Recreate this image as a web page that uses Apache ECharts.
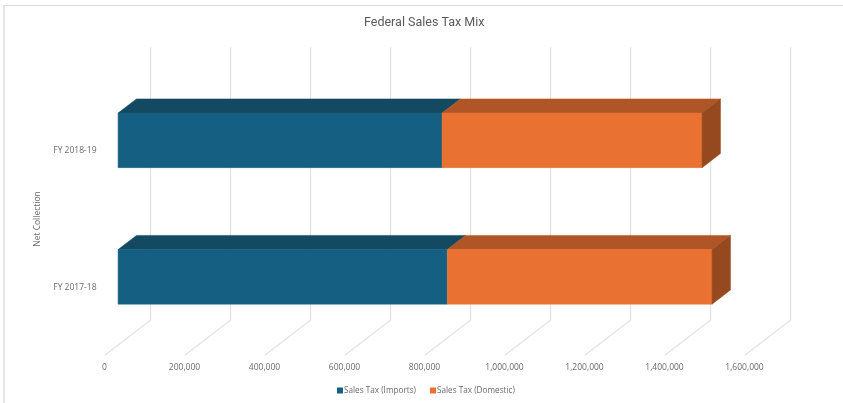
<!DOCTYPE html>
<html>
<head>
<meta charset="utf-8">
<style>html,body{margin:0;padding:0;background:#fff}#chart{width:843px;height:403px}</style>
<script src="https://cdn.jsdelivr.net/npm/echarts@6/dist/echarts.min.js"></script>
</head>
<body>
<div id="chart"></div>
<script>
// Federal sales tax collection by source, stacked per fiscal year.
var fiscalYears = ['FY 2017-18', 'FY 2018-19'];
var salesTaxImports = [823000, 810000];
var salesTaxDomestic = [662000, 650000];
var tickValues = [0, 200000, 400000, 600000, 800000, 1000000, 1200000, 1400000, 1600000];

var chart = echarts.init(document.getElementById('chart'));

// Oblique projection: how far the back wall sits from the front floor edge, and
// where the bar's front and back faces fall along that depth.
var DEPTH_X = 46, DEPTH_Y = -35.3;
var FRONT = 0.295, BACK = 0.695;
var BAR_SHARE = 0.4;

function face(points, color) {
  return {
    type: 'polygon',
    shape: { points: points },
    style: { fill: color, stroke: color, lineWidth: 0.5 }
  };
}

// One stacked segment drawn as a box: front, top and, for the last segment, right side.
function boxRenderer(frontColor, topColor, sideColor, withSide) {
  return function (params, api) {
    var cat = api.value(0);
    var start = api.coord([api.value(1), cat]);
    var end = api.coord([api.value(2), cat]);
    var h = api.size([0, 1])[1] * BAR_SHARE;
    var fx = DEPTH_X * FRONT, fy = DEPTH_Y * FRONT;
    var bx = DEPTH_X * (BACK - FRONT), by = DEPTH_Y * (BACK - FRONT);
    var x0 = start[0] + fx, x1 = end[0] + fx;
    var top = start[1] + fy - h / 2, bottom = start[1] + fy + h / 2;
    var children = [
      face([[x0, top], [x1, top], [x1 + bx, top + by], [x0 + bx, top + by]], topColor),
      face([[x0, top], [x1, top], [x1, bottom], [x0, bottom]], frontColor)
    ];
    if (withSide) {
      children.push(face([[x1, top], [x1 + bx, top + by], [x1 + bx, bottom + by], [x1, bottom]], sideColor));
    }
    return { type: 'group', children: children };
  };
}

// Gridline: vertical on the back wall, then slanting across the floor to the tick label.
function gridRenderer(params, api) {
  var value = api.value(0);
  var area = params.coordSys;
  var front = api.coord([value, 0]);
  var bottomY = area.y + area.height;
  return {
    type: 'polyline',
    shape: { points: [
      [front[0], bottomY],
      [front[0] + DEPTH_X, bottomY + DEPTH_Y],
      [front[0] + DEPTH_X, area.y + DEPTH_Y]
    ] },
    style: { fill: 'none', stroke: '#e4e4e4', lineWidth: 1.4 }
  };
}

function segmentData(starts, values) {
  return values.map(function (v, i) { return [i, starts[i], starts[i] + v]; });
}

chart.setOption({
  animation: false,
  backgroundColor: '#fff',
  title: {
    text: 'Federal Sales Tax Mix',
    left: 364, top: 11, padding: [5, 0],
    textStyle: { fontFamily: 'Roboto', fontSize: 12.5, fontWeight: 'normal', color: '#595959' }
  },
  legend: {
    left: 337, top: 386.5, padding: 0,
    itemWidth: 6, itemHeight: 6, itemGap: 14,
    icon: 'rect',
    textStyle: { fontFamily: 'Open Sans', fontSize: 8.2, color: '#6a6a6a', padding: [0, 0, 0, -4] },
    data: ['Sales Tax (Imports)', 'Sales Tax (Domestic)']
  },
  grid: { left: 104.5, right: 98.5, top: 82.5, bottom: 47.5 },
  xAxis: {
    type: 'value', min: 0, max: 1600000, interval: 200000,
    axisLine: { show: false }, axisTick: { show: false }, splitLine: { show: false },
    axisLabel: {
      margin: 7.5, fontFamily: 'Open Sans', fontSize: 8.5, color: '#6a6a6a',
      formatter: function (v) { return v.toLocaleString('en-US'); }
    }
  },
  yAxis: {
    type: 'category', data: fiscalYears,
    name: 'Net Collection', nameLocation: 'middle', nameGap: 60, nameRotate: 90,
    nameTextStyle: { fontFamily: 'Open Sans', fontSize: 8.5, color: '#6a6a6a' },
    axisLine: { show: false }, axisTick: { show: false }, splitLine: { show: false },
    axisLabel: { margin: 8, fontFamily: 'Open Sans', fontSize: 8.5, color: '#6a6a6a' }
  },
  series: [
    {
      type: 'custom', silent: true, z: 1,
      renderItem: gridRenderer,
      data: tickValues.map(function (v) { return [v]; }),
      encode: { x: 0 }, clip: false
    },
    {
      name: 'Sales Tax (Imports)', type: 'custom', z: 2, clip: false,
      itemStyle: { color: '#156082' },
      renderItem: boxRenderer('#156082', '#134A62', '#0F3D51', false),
      data: segmentData([0, 0], salesTaxImports),
      encode: { y: 0, x: [1, 2] }
    },
    {
      name: 'Sales Tax (Domestic)', type: 'custom', z: 3, clip: false,
      itemStyle: { color: '#E97132' },
      renderItem: boxRenderer('#E97132', '#B05626', '#96491F', true),
      data: segmentData(salesTaxImports, salesTaxDomestic),
      encode: { y: 0, x: [1, 2] }
    }
  ],
  // Chart frame: only the left and top edges are ruled.
  graphic: [
    { type: 'line', silent: true, z: 0, shape: { x1: 4, y1: 5, x2: 4, y2: 403 },
      style: { stroke: '#e6e6e6', lineWidth: 2 } },
    { type: 'line', silent: true, z: 0, shape: { x1: 3, y1: 5.5, x2: 843, y2: 5.5 },
      style: { stroke: '#dcdcdc', lineWidth: 1 } }
  ]
});
</script>
</body>
</html>
